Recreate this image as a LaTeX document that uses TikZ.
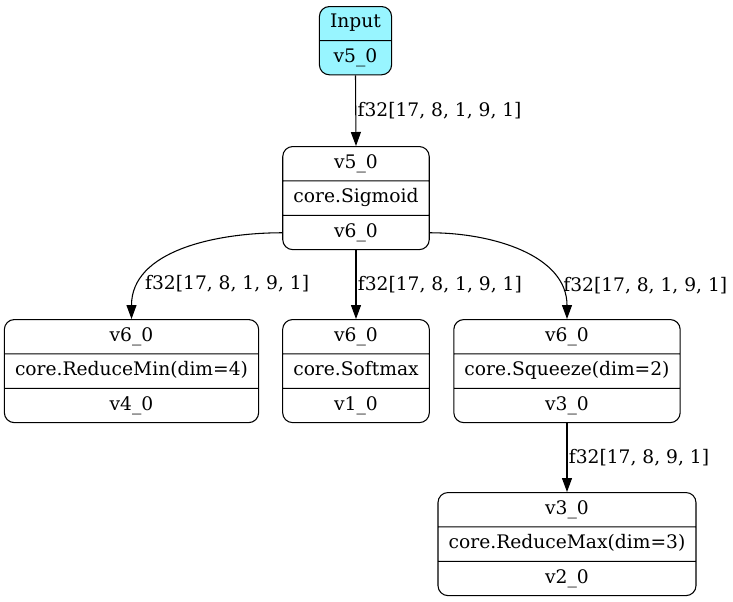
\documentclass[tikz,border=0pt]{standalone}
\usepackage{fontspec}
\setmainfont{DejaVu Serif}
\usetikzlibrary{arrows.meta,shapes.multipart,calc}
\definecolor{cadetblue}{HTML}{98F5FF}
% one field of a record, same height for every row
\newcommand\fld[1]{\rule[-3.6pt]{0pt}{13.3pt}#1}
\tikzset{
  rec/.style={rectangle split, rectangle split parts=3, draw, line width=0.8pt,
    rounded corners=7.5pt, inner xsep=8pt, inner ysep=5.45pt, anchor=north,
    font=\fontsize{14pt}{16pt}\selectfont},
  edge/.style={line width=0.8pt, -{Triangle[length=10.5pt, width=7.5pt]}},
  lbl/.style={font=\fontsize{14pt}{16pt}\selectfont, anchor=west, inner sep=1pt}
}
\begin{document}
\begin{tikzpicture}[x=0.75pt, y=-0.75pt]
  \useasboundingbox (0,0) rectangle (733,601);
  % records
  \node[rec, rectangle split parts=2, fill=cadetblue] (inp) at (355.5,6)
    {\fld{Input} \nodepart{two} \fld{v5\_0}};
  \node[rec] (sig) at (356,146)
    {\fld{v5\_0} \nodepart{two} \fld{core.Sigmoid} \nodepart{three} \fld{v6\_0}};
  \node[rec] (rmin) at (131.5,319)
    {\fld{v6\_0} \nodepart{two} \fld{core.ReduceMin(dim=4)} \nodepart{three} \fld{v4\_0}};
  \node[rec] (smax) at (356,319)
    {\fld{v6\_0} \nodepart{two} \fld{core.Softmax} \nodepart{three} \fld{v1\_0}};
  \node[rec] (sq) at (567,319)
    {\fld{v6\_0} \nodepart{two} \fld{core.Squeeze(dim=2)} \nodepart{three} \fld{v3\_0}};
  \node[rec] (rmax) at (567,492)
    {\fld{v3\_0} \nodepart{two} \fld{core.ReduceMax(dim=3)} \nodepart{three} \fld{v2\_0}};
  % port of the v6_0 row
  \coordinate (sigw) at ($(sig.two split west)!0.5!(sig.south west)$);
  \coordinate (sige) at ($(sig.two split east)!0.5!(sig.south east)$);
  % edges
  \draw[edge] (inp.south) -- node[lbl] (l1) {f32[17, 8, 1, 9, 1]} (sig.north);
  \draw[edge] (sigw) to[out=180, in=90] node[lbl, pos=0.8, xshift=2pt] (l2) {f32[17, 8, 1, 9, 1]} (rmin.north);
  \draw[edge] (sig.south) -- node[lbl] (l3) {f32[17, 8, 1, 9, 1]} (smax.north);
  \draw[edge] (sige) to[out=0, in=90] node[lbl, pos=0.8, xshift=2pt] (l4) {f32[17, 8, 1, 9, 1]} (sq.north);
  \draw[edge] (sq.south) -- node[lbl] (l5) {f32[17, 8, 9, 1]} (rmax.north);
\end{tikzpicture}
\end{document}
